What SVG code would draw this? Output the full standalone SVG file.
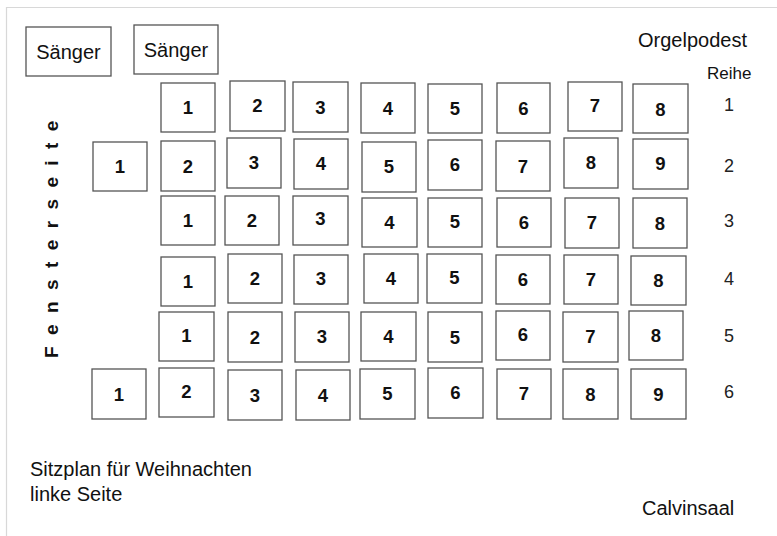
<svg xmlns="http://www.w3.org/2000/svg" width="777" height="536" viewBox="0 0 777 536">
<style>
.b{fill:#fff;stroke:#555;stroke-width:1.3}
.n{font-family:"Liberation Sans",Arial,sans-serif;font-size:18.5px;font-weight:bold;fill:#111;text-anchor:middle}
.t{font-family:"Liberation Sans",Arial,sans-serif;font-size:20px;fill:#111}
.r{font-family:"Liberation Sans",Arial,sans-serif;font-size:18px;fill:#222;text-anchor:middle}
.c{text-anchor:middle}
</style>
<rect width="777" height="536" fill="#fff"/>
<g id="border" stroke="#d8d8d8" stroke-width="1.2" fill="none">
<line x1="6" y1="7.5" x2="777" y2="7.5"/>
<line x1="6.5" y1="7" x2="6.5" y2="536"/>
</g>
<g id="labels">
<text class="t" x="638" y="47">Orgelpodest</text>
<text class="t" x="707" y="79" style="font-size:17px">Reihe</text>
<text class="r" x="729" y="111">1</text>
<text class="r" x="729" y="172">2</text>
<text class="r" x="729" y="227">3</text>
<text class="r" x="729" y="285">4</text>
<text class="r" x="729" y="342">5</text>
<text class="r" x="729" y="398">6</text>
<text class="t" x="30" y="476">Sitzplan für Weihnachten</text>
<text class="t" x="30" y="501">linke Seite</text>
<text class="t" x="642" y="515">Calvinsaal</text>
<text id="fensterseite" x="58" y="358" transform="rotate(-90 58 358)" style="font-family:'Liberation Sans',Arial,sans-serif;font-size:19px;font-weight:bold;letter-spacing:11.4px;fill:#111">Fensterseite</text>
</g>
<g id="saenger1"><rect class="b" x="26" y="27" width="85" height="49"/><text class="t c" x="68.5" y="58.5">Sänger</text></g>
<g id="saenger2"><rect class="b" x="134" y="25" width="84" height="49"/><text class="t c" x="176" y="56.5">Sänger</text></g>
<g id="reihe1">
<g id="r1s1"><rect class="b" x="161" y="83" width="54" height="49"/><text class="n" x="188" y="114">1</text></g>
<g id="r1s2"><rect class="b" x="230" y="81" width="55" height="50"/><text class="n" x="257.5" y="112">2</text></g>
<g id="r1s3"><rect class="b" x="293" y="82" width="55" height="50"/><text class="n" x="320.5" y="114">3</text></g>
<g id="r1s4"><rect class="b" x="361" y="83" width="54" height="50"/><text class="n" x="388" y="115">4</text></g>
<g id="r1s5"><rect class="b" x="428" y="84" width="54" height="49"/><text class="n" x="455" y="115">5</text></g>
<g id="r1s6"><rect class="b" x="497" y="83" width="53" height="50"/><text class="n" x="523.5" y="115">6</text></g>
<g id="r1s7"><rect class="b" x="568" y="82" width="54" height="49"/><text class="n" x="595" y="112">7</text></g>
<g id="r1s8"><rect class="b" x="633" y="84" width="55" height="49"/><text class="n" x="660.5" y="116">8</text></g>
</g>
<g id="reihe2">
<g id="r2s1"><rect class="b" x="93" y="142" width="54" height="49"/><text class="n" x="120" y="173">1</text></g>
<g id="r2s2"><rect class="b" x="161" y="141" width="54" height="50"/><text class="n" x="188" y="173">2</text></g>
<g id="r2s3"><rect class="b" x="227" y="138" width="54" height="50"/><text class="n" x="254" y="169">3</text></g>
<g id="r2s4"><rect class="b" x="294" y="139" width="54" height="50"/><text class="n" x="321" y="170">4</text></g>
<g id="r2s5"><rect class="b" x="362" y="142" width="54" height="50"/><text class="n" x="389" y="173">5</text></g>
<g id="r2s6"><rect class="b" x="428" y="140" width="54" height="50"/><text class="n" x="455" y="171">6</text></g>
<g id="r2s7"><rect class="b" x="496" y="141" width="54" height="50"/><text class="n" x="523" y="173">7</text></g>
<g id="r2s8"><rect class="b" x="564" y="138" width="54" height="50"/><text class="n" x="591" y="169">8</text></g>
<g id="r2s9"><rect class="b" x="633" y="139" width="55" height="50"/><text class="n" x="660.5" y="170">9</text></g>
</g>
<g id="reihe3">
<g id="r3s1"><rect class="b" x="161" y="196" width="54" height="49"/><text class="n" x="188" y="227">1</text></g>
<g id="r3s2"><rect class="b" x="225" y="196" width="54" height="49"/><text class="n" x="252" y="227">2</text></g>
<g id="r3s3"><rect class="b" x="293" y="196" width="55" height="49"/><text class="n" x="320.5" y="225">3</text></g>
<g id="r3s4"><rect class="b" x="362" y="198" width="55" height="49"/><text class="n" x="389.5" y="229">4</text></g>
<g id="r3s5"><rect class="b" x="428" y="198" width="54" height="49"/><text class="n" x="455" y="228">5</text></g>
<g id="r3s6"><rect class="b" x="497" y="198" width="54" height="49"/><text class="n" x="524" y="229">6</text></g>
<g id="r3s7"><rect class="b" x="565" y="198" width="54" height="50"/><text class="n" x="592" y="229">7</text></g>
<g id="r3s8"><rect class="b" x="633" y="198" width="54" height="50"/><text class="n" x="660" y="230">8</text></g>
</g>
<g id="reihe4">
<g id="r4s1"><rect class="b" x="161" y="257" width="54" height="49"/><text class="n" x="188" y="288">1</text></g>
<g id="r4s2"><rect class="b" x="228" y="254" width="54" height="49"/><text class="n" x="255" y="285">2</text></g>
<g id="r4s3"><rect class="b" x="294" y="255" width="54" height="49"/><text class="n" x="321" y="285">3</text></g>
<g id="r4s4"><rect class="b" x="364" y="254" width="54" height="49"/><text class="n" x="391" y="285">4</text></g>
<g id="r4s5"><rect class="b" x="427" y="254" width="55" height="49"/><text class="n" x="454.5" y="284">5</text></g>
<g id="r4s6"><rect class="b" x="496" y="255" width="54" height="49"/><text class="n" x="523" y="286">6</text></g>
<g id="r4s7"><rect class="b" x="564" y="255" width="54" height="49"/><text class="n" x="591" y="286">7</text></g>
<g id="r4s8"><rect class="b" x="631" y="256" width="55" height="49"/><text class="n" x="658.5" y="287">8</text></g>
</g>
<g id="reihe5">
<g id="r5s1"><rect class="b" x="159" y="312" width="55" height="49"/><text class="n" x="186.5" y="342">1</text></g>
<g id="r5s2"><rect class="b" x="228" y="312" width="54" height="50"/><text class="n" x="255" y="344">2</text></g>
<g id="r5s3"><rect class="b" x="295" y="312" width="54" height="50"/><text class="n" x="322" y="343">3</text></g>
<g id="r5s4"><rect class="b" x="361" y="312" width="55" height="49"/><text class="n" x="388.5" y="343">4</text></g>
<g id="r5s5"><rect class="b" x="428" y="312" width="54" height="50"/><text class="n" x="455" y="344">5</text></g>
<g id="r5s6"><rect class="b" x="496" y="311" width="54" height="49"/><text class="n" x="523" y="341">6</text></g>
<g id="r5s7"><rect class="b" x="563" y="312" width="55" height="50"/><text class="n" x="590.5" y="343">7</text></g>
<g id="r5s8"><rect class="b" x="629" y="311" width="54" height="49"/><text class="n" x="656" y="342">8</text></g>
</g>
<g id="reihe6">
<g id="r6s1"><rect class="b" x="92" y="369" width="54" height="50"/><text class="n" x="119" y="401">1</text></g>
<g id="r6s2"><rect class="b" x="159" y="368" width="55" height="49"/><text class="n" x="186.5" y="398">2</text></g>
<g id="r6s3"><rect class="b" x="228" y="370" width="54" height="50"/><text class="n" x="255" y="402">3</text></g>
<g id="r6s4"><rect class="b" x="296" y="370" width="54" height="50"/><text class="n" x="323" y="402">4</text></g>
<g id="r6s5"><rect class="b" x="360" y="369" width="55" height="50"/><text class="n" x="387.5" y="400">5</text></g>
<g id="r6s6"><rect class="b" x="428" y="368" width="55" height="50"/><text class="n" x="455.5" y="399">6</text></g>
<g id="r6s7"><rect class="b" x="497" y="369" width="54" height="50"/><text class="n" x="524" y="400">7</text></g>
<g id="r6s8"><rect class="b" x="563" y="369" width="55" height="50"/><text class="n" x="590.5" y="401">8</text></g>
<g id="r6s9"><rect class="b" x="631" y="369" width="55" height="50"/><text class="n" x="658.5" y="401">9</text></g>
</g>
<g id="connectors"/>
</svg>
